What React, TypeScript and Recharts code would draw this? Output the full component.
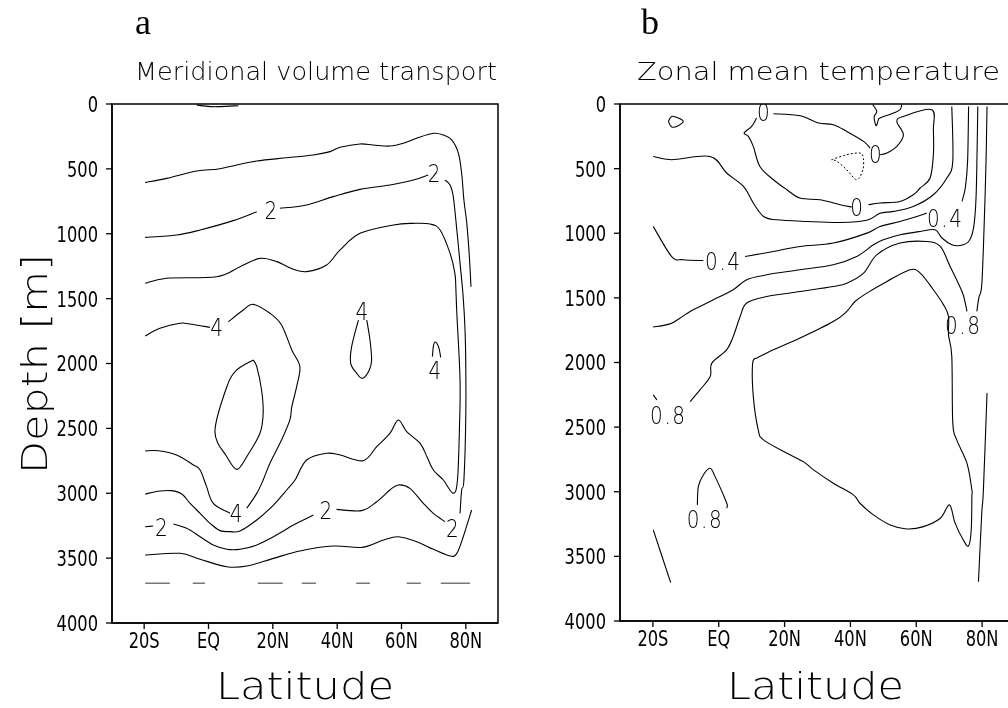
import React from "react";
import { ComposedChart, Line, Scatter, XAxis, YAxis, ReferenceArea } from "recharts";

// axes
const LAT_TICKS = [-20, 0, 20, 40, 60, 80];
const LAT_LABELS = ["20S", "EQ", "20N", "40N", "60N", "80N"];
const DEPTH_TICKS = [0, 500, 1000, 1500, 2000, 2500, 3000, 3500, 4000];

type Pt = [number, number | null];

// ---- panel a: meridional volume transport, [lat, depth]; null = gap for a label
const A_SURFACE: Pt[] = [[-3.7, 8], [0.5, 20], [3.6, 20], [9.3, 13]];
const A_ONE_UPPER: Pt[] = [
  [-19.7, 604], [-13, 573], [-3.7, 516], [3.1, 501], [8.8, 470], [15, 439], [24.3, 414],
  [32.6, 393], [37.8, 367], [40.9, 334], [47.1, 308], [51.2, 316], [56.4, 324], [60.6, 303],
  [64.7, 264], [69.9, 226], [73, 239], [75.6, 277], [77.7, 380], [78.7, 534], [79.4, 740],
  [80.3, 920], [81.1, 1177], [81.6, 1408],
];
const A_TWO: Pt[] = [
  [-19.7, 1028], [-9.9, 1010], [-2.6, 971], [7.7, 899], [15, 830], [19.6, null], [22.2, 804],
  [30.5, 778], [38.8, 714], [47.1, 658], [56.4, 624], [63.7, 586], [68.3, 547], [70.4, null],
  [73.5, 586], [75.1, 624], [76.1, 714], [77.2, 971], [78.2, 1228], [79, 1433], [79.5, 1613],
  [79.9, 1870], [80, 2384], [79.4, 2898], [78.7, 2975], [78.2, 3155], [76.1, null],
  [73.5, 3219], [69.9, 3155], [66.8, 3078], [62.6, 2962], [59, 2936], [56.4, 2975],
  [52.3, 3065], [47.6, 3134], [39.8, 3124], [36.7, null], [32.6, 3168], [26.4, 3245],
  [20.2, 3335], [15, 3399], [9.8, 3432], [5.7, 3432], [1.5, 3399], [-2.6, 3335], [-6.8, 3270],
  [-10.9, 3237], [-14.4, null], [-17.2, 3252], [-19.7, 3258],
];
const A_THREE: Pt[] = [
  [-19.7, 1382], [-13, 1343], [2.5, 1331], [9.8, 1254], [16, 1190], [21.2, 1215], [26.4, 1274],
  [30.5, 1292], [36.7, 1241], [40.9, 1125], [47.1, 997], [57.5, 932], [63.7, 920], [68.9, 925],
  [72, 971], [75.1, 1151], [76.6, 1305], [76.9, 1420], [77.2, 1613], [78.2, 2127], [78, 2512],
  [77.4, 2898], [76.1, 3001], [73, 2898], [69.9, 2821], [67.9, 2718], [65.8, 2615],
  [61.6, 2525], [59, 2435], [56.4, 2538], [52.3, 2641], [48.1, 2749], [40.9, 2705],
  [36.7, 2692], [30.5, 2744], [26.9, 2898], [24.3, 2975], [20.2, 3091], [15, 3206],
  [9.8, 3291], [6.7, 3296], [3.6, 3288], [0.5, 3232], [-2.6, 3155], [-5.7, 3078],
  [-8.3, 3006], [-11.5, 2980], [-15.1, 2983], [-19.7, 3006],
];
const A_FOUR: Pt[] = [
  [-19.7, 1788], [-15.1, 1729], [-8.9, 1690], [-5.8, 1696], [0.5, 1721], [2.8, null],
  [6.2, 1678], [10.8, 1588], [13.9, 1544], [19.1, 1613], [22.7, 1703], [25.9, 1896],
  [28.4, 2024], [27.4, 2179], [25.9, 2333], [25.3, 2435], [22.7, 2590], [19.1, 2769],
  [17, 2898], [15, 3001], [11.9, 3116], [8.8, null], [6.7, 3155], [1.5, 3078], [-0.6, 2949],
  [-2.6, 2821], [-4.7, 2782], [-9.9, 2705], [-15.6, 2672], [-19.7, 2674],
];
const A_FIVE: Pt[] = [
  [13.9, 1973], [8.8, 2050], [5.7, 2179], [2, 2525], [5.7, 2718], [8.8, 2816], [11.9, 2718],
  [16, 2538], [17, 2384], [16.5, 2204], [15, 2024], [13.9, 1973],
];
const A_FOUR_MID: Pt[] = [
  [46.6, 1665], [44.5, 1870], [44.2, 1999], [46.1, 2076], [47.9, 2114], [50, 2050],
  [50.7, 1973], [50.2, 1819], [49.2, 1665],
];
const A_FOUR_EAST: Pt[] = [[69.6, 1947], [69.9, 1870], [70.4, 1834], [71.5, 1870], [72.2, 1952]];
const A_ONE_LOWER: Pt[] = [
  [-19.7, 3476], [-8.9, 3463], [-2.6, 3509], [5.7, 3566], [11.9, 3561], [20.2, 3502],
  [28.4, 3445], [38.8, 3407], [47.8, 3417], [54.4, 3360], [59, 3335], [64.7, 3373],
  [69.9, 3432], [75.1, 3484], [77.2, 3463], [79.2, 3335], [81.8, 3129],
];
const A_DASHED: Pt[] = [
  [-19.7, 3694], [-12, 3694], [-8, null], [-4.9, 3694], [-1.1, 3694], [5, null],
  [15.3, 3694], [23.1, 3694], [26, null], [29, 3694], [33.4, 3694], [40, null],
  [45.9, 3694], [50.2, 3694], [55, null], [61.6, 3694], [66, 3694], [69, null],
  [72.2, 3694], [81.3, 3694],
];
const A_LABEL_LAT = [19.6, 70.4, 2.8, 47.9, 70.6, 8.8, -14.4, 36.7, 76.1];
const A_LABEL_DEPTH = [817, 534, 1716, 1593, 2050, 3155, 3258, 3129, 3270];
const A_LABEL_TEXT = ["2", "2", "4", "4", "4", "4", "2", "2", "2"];

// ---- panel b: zonal mean temperature
const B_SMALL: Pt[] = [[-15.3, 134], [-14.3, 96], [-12.3, 108], [-10.8, 134], [-12.3, 168], [-14.3, 178], [-15.3, 134]];
const B_HANG: Pt[] = [[46.8, 5], [48, 57], [47.2, 101], [47.8, 168], [48.5, 122], [49, 108], [53.1, 70], [55.1, 44], [55.6, 5]];
const B_NEG: Pt[] = [[34.3, 431], [38.9, 392], [42.9, 380], [43.9, 418], [43.8, 508], [41.9, 586], [38.9, 509], [35.9, 444], [34.3, 431]];
const B_ZERO: Pt[] = [
  [16.6, 75], [24.7, 91], [30.3, 147], [34.8, 160], [38.9, 212], [44, 289], [46, 341],
  [47.8, null], [49, 392], [51.1, 379], [54.1, 328], [56.1, 238], [54.1, 135], [56.1, 96],
  [64.7, 44], [65.2, 200], [65.2, 393], [64.2, 573], [61.2, 650], [59.1, 702], [55.1, 754],
  [49, 766], [45.5, 779], [42.1, null], [40.4, 797], [36.9, 779], [30.8, 741], [24.7, 728],
  [20.7, 663], [16.6, 586], [12.5, 483], [10.5, 328], [9, 250], [7.7, 225], [10, 173],
  [11.5, 109],
];
const B_02: Pt[] = [
  [-19.9, 406], [-14.3, 431], [-2.6, 406], [2.4, 534], [7.5, 638], [10.5, 766], [13.6, 870],
  [17.6, 896], [26.7, 909], [36.9, 917], [45, 900], [49, 845], [53.1, 831], [59.1, 793],
  [65.2, 702], [69.3, 573], [71.1, 444], [70.8, 19],
];
const B_04: Pt[] = [
  [-19.9, 947], [-14.3, 1180], [-10.8, 1205], [-4.7, 1211], [1.4, null], [8, 1180],
  [16.6, 1141], [24.7, 1102], [34.8, 1076], [45, 999], [49, 947], [55.1, 909], [60.2, 870],
  [63.2, 844], [68.8, null], [73.9, 754], [74.9, 650], [75.6, 444], [75.9, 19],
];
const B_06: Pt[] = [
  [-19.9, 1726], [-14.8, 1701], [-11.8, 1657], [-8.7, 1605], [-5.7, 1567], [-1.6, 1515],
  [4.4, 1437], [8.5, 1360], [14.6, 1321], [24.7, 1283], [34.8, 1244], [41.9, 1180],
  [47, 1089], [50, 1051], [55.1, 1012], [61.2, 986], [65.7, 973], [67.8, 1037], [70.8, 1089],
  [73.3, 1095], [75.9, 1064], [77.4, 960], [78.2, 702], [78.7, 19],
];
const B_08: Pt[] = [
  [-19.9, 2250], [-18.8, 2289], [-15.3, null], [-8.7, 2302], [-5.7, 2212], [-2.6, 2109],
  [-2.1, 2005], [2.4, 1902], [4.4, 1799], [6.5, 1644], [8.5, 1540], [14.6, 1489],
  [24.7, 1451], [34.8, 1412], [38.9, 1386], [44, 1308], [48, 1167], [55.1, 1076],
  [63.2, 1064], [67.3, 1102], [70.3, 1257], [73.9, 1451], [74.9, 1540], [75.4, 1605],
  [74.3, null], [78.4, 1605], [79, 1500], [79.9, 1400], [80.6, 960], [81.2, 444], [81.5, 19],
];
const B_WARM: Pt[] = [
  [11.55, 1966], [16.6, 1902], [24.7, 1811], [34.8, 1683], [38.9, 1605], [41.4, 1528],
  [45, 1463], [51.1, 1373], [58.1, 1283], [61.2, 1308], [65.2, 1437], [68.3, 1554],
  [69.8, 1644], [69.8, 1786], [70.8, 1954], [71.1, 2469], [72.3, 2599], [75.4, 2779],
  [76.9, 2986], [76.9, 3038], [76.7, 3296], [75.9, 3419], [74.3, 3373], [71.8, 3243],
  [70.1, 3102], [67.3, 3205], [62.2, 3270], [57.1, 3288], [52.1, 3257], [47, 3179],
  [42.9, 3089], [40.9, 3024], [34.8, 2934], [28.8, 2831], [25.7, 2767], [20.7, 2702],
  [13.6, 2599], [12, 2521], [10.5, 2264], [10.3, 2005], [11.55, 1966],
];
const B_ARCH: Pt[] = [[-6.5, 3102], [-6.2, 2960], [-4.7, 2870], [-2.6, 2818], [-1.1, 2883], [1.4, 3024], [2.6, 3102], [2.4, 3127]];
const B_SW: Pt[] = [[-19.9, 3295], [-14.6, 3703]];
const B_NE: Pt[] = [[81.5, 2237], [80.4, 2986], [79.9, 3166], [78.9, 3696]];
const B_LABEL_LAT = [13.8, 47.8, 42.1, 1.4, 68.8, 74.3, -15.3, -4.2];
const B_LABEL_DEPTH = [65, 385, 793, 1218, 882, 1708, 2405, 3213];
const B_LABEL_TEXT = ["0", "0", "0", "0.4", "0.4", "0.8", "0.8", "0.8"];

const FONT = "'DejaVu Sans', sans-serif";

const toPoints = (arr: Pt[]) => arr.map(([lat, depth]) => ({ lat, depth }));
const toLabels = (lats: number[], depths: number[], texts: string[]) =>
  lats.map((lat, i) => ({ lat, depth: depths[i], text: texts[i] }));

const smoothCurve: any = (context: any) => {
  let pts: number[][] = [];
  return {
    areaStart() {},
    areaEnd() {},
    lineStart() {
      pts = [];
    },
    lineEnd() {
      if (!pts.length) return;
      context.moveTo(pts[0][0], pts[0][1]);
      for (let i = 0; i < pts.length - 1; i++) {
        const p0 = pts[Math.max(i - 1, 0)];
        const p1 = pts[i];
        const p2 = pts[i + 1];
        const p3 = pts[Math.min(i + 2, pts.length - 1)];
        context.bezierCurveTo(
          p1[0] + (p2[0] - p0[0]) / 6,
          p1[1] + (p2[1] - p0[1]) / 6,
          p2[0] - (p3[0] - p1[0]) / 6,
          p2[1] - (p3[1] - p1[1]) / 6,
          p2[0],
          p2[1]
        );
      }
    },
    point(x: number, y: number) {
      pts.push([+x, +y]);
    },
  };
};

function LatTick(props: any) {
  const { x, y, payload } = props;
  const label = LAT_LABELS[LAT_TICKS.indexOf(payload.value)];
  return (
    <g transform={`translate(${x},${y}) scale(0.74,1)`}>
      <text x={0} y={0} dy="0.78em" textAnchor="middle" fontSize={22} fontFamily={FONT} fill="#000">
        {label}
      </text>
    </g>
  );
}

function DepthTick(props: any) {
  const { x, y, payload } = props;
  return (
    <g transform={`translate(${x},${y}) scale(0.74,1)`}>
      <text x={0} y={0} dy="0.36em" textAnchor="end" fontSize={22} fontFamily={FONT} fill="#000">
        {payload.value}
      </text>
    </g>
  );
}

const renderLabel = (props: any) => {
  const { cx, cy, payload } = props;
  return (
    <g transform={`translate(${cx},${cy}) scale(0.8,1)`}>
      <text x={0} y={0} dy="0.36em" textAnchor="middle" fontSize={25} letterSpacing={2} fontFamily={FONT} fontWeight={300} fill="#000">
        {payload.text}
      </text>
    </g>
  );
};

function Panel({ left, width, margin, solid, dashed, dotted, labels }: any) {
  return (
    <div style={{ position: "absolute", left, top: 0, willChange: "transform" }}>
      <ComposedChart width={width} height={708} margin={margin}>
        <XAxis
          type="number"
          dataKey="lat"
          domain={[-30, 90]}
          ticks={LAT_TICKS}
          allowDataOverflow
          height={30}
          tickSize={6}
          tickMargin={2}
          tick={<LatTick />}
          axisLine={{ stroke: "#000", strokeWidth: 1.5 }}
          tickLine={{ stroke: "#000", strokeWidth: 1.3 }}
        />
        <YAxis
          type="number"
          dataKey="depth"
          domain={[0, 4000]}
          reversed
          ticks={DEPTH_TICKS}
          allowDataOverflow
          width={50}
          tickSize={6}
          tickMargin={8}
          tick={<DepthTick />}
          axisLine={{ stroke: "#000", strokeWidth: 1.5 }}
          tickLine={{ stroke: "#000", strokeWidth: 1.3 }}
        />
        <ReferenceArea x1={-30} x2={90} y1={0} y2={4000} fill="none" stroke="#000" strokeWidth={1.5} />
        {solid.map((c: Pt[], i: number) => (
          <Line
            key={"s" + i}
            data={toPoints(c)}
            dataKey="depth"
            type={smoothCurve}
            stroke="#000"
            strokeWidth={1.1}
            dot={false}
            activeDot={false}
            connectNulls={false}
            isAnimationActive={false}
          />
        ))}
        {dashed.map((c: Pt[], i: number) => (
          <Line
            key={"d" + i}
            data={toPoints(c)}
            dataKey="depth"
            type="linear"
            stroke="#777"
            strokeWidth={1.6}
            dot={false}
            activeDot={false}
            connectNulls={false}
            isAnimationActive={false}
          />
        ))}
        {dotted.map((c: Pt[], i: number) => (
          <Line
            key={"o" + i}
            data={toPoints(c)}
            dataKey="depth"
            type={smoothCurve}
            stroke="#000"
            strokeWidth={1}
            strokeDasharray="2 2"
            dot={false}
            activeDot={false}
            isAnimationActive={false}
          />
        ))}
        <Scatter data={labels} dataKey="depth" shape={renderLabel} isAnimationActive={false} />
      </ComposedChart>
    </div>
  );
}

export default function App() {
  const hershey = { fontFamily: FONT, fontWeight: 300, fill: "#000" } as any;
  return (
    <div style={{ position: "absolute", left: 0, top: 0, width: 1008, height: 708, overflow: "hidden", background: "#fff" }}>
      <Panel
        left={0}
        width={504}
        margin={{ top: 104, right: 6, bottom: 55, left: 62 }}
        solid={[A_SURFACE, A_ONE_UPPER, A_TWO, A_THREE, A_FOUR, A_FIVE, A_FOUR_MID, A_FOUR_EAST, A_ONE_LOWER]}
        dashed={[A_DASHED]}
        dotted={[]}
        labels={toLabels(A_LABEL_LAT, A_LABEL_DEPTH, A_LABEL_TEXT)}
      />
      <Panel
        left={504}
        width={520}
        margin={{ top: 104, right: 9, bottom: 57, left: 66 }}
        solid={[B_SMALL, B_HANG, B_ZERO, B_02, B_04, B_06, B_08, B_WARM, B_ARCH, B_SW, B_NE]}
        dashed={[]}
        dotted={[B_NEG]}
        labels={toLabels(B_LABEL_LAT, B_LABEL_DEPTH, B_LABEL_TEXT)}
      />
      <svg width={1008} height={708} style={{ position: "absolute", left: 0, top: 0, pointerEvents: "none", willChange: "transform" }}>
        <text x={143} y={34} textAnchor="middle" fontSize={36} fontFamily="'Liberation Serif', serif" fill="#000">a</text>
        <text x={650} y={34} textAnchor="middle" fontSize={36} fontFamily="'Liberation Serif', serif" fill="#000">b</text>
        <text x={135} y={80} fontSize={24} textLength={362} lengthAdjust="spacingAndGlyphs" {...hershey}>
          Meridional volume transport
        </text>
        <text x={637} y={80} fontSize={24} textLength={363} lengthAdjust="spacingAndGlyphs" {...hershey}>
          Zonal mean temperature
        </text>
        <text transform="translate(47,364) rotate(-90)" textAnchor="middle" fontSize={36} textLength={220} lengthAdjust="spacingAndGlyphs" {...hershey}>
          Depth [m]
        </text>
        <text x={216} y={699} fontSize={38} textLength={178} lengthAdjust="spacingAndGlyphs" {...hershey}>
          Latitude
        </text>
        <text x={727} y={699} fontSize={38} textLength={177} lengthAdjust="spacingAndGlyphs" {...hershey}>
          Latitude
        </text>
      </svg>
    </div>
  );
}
